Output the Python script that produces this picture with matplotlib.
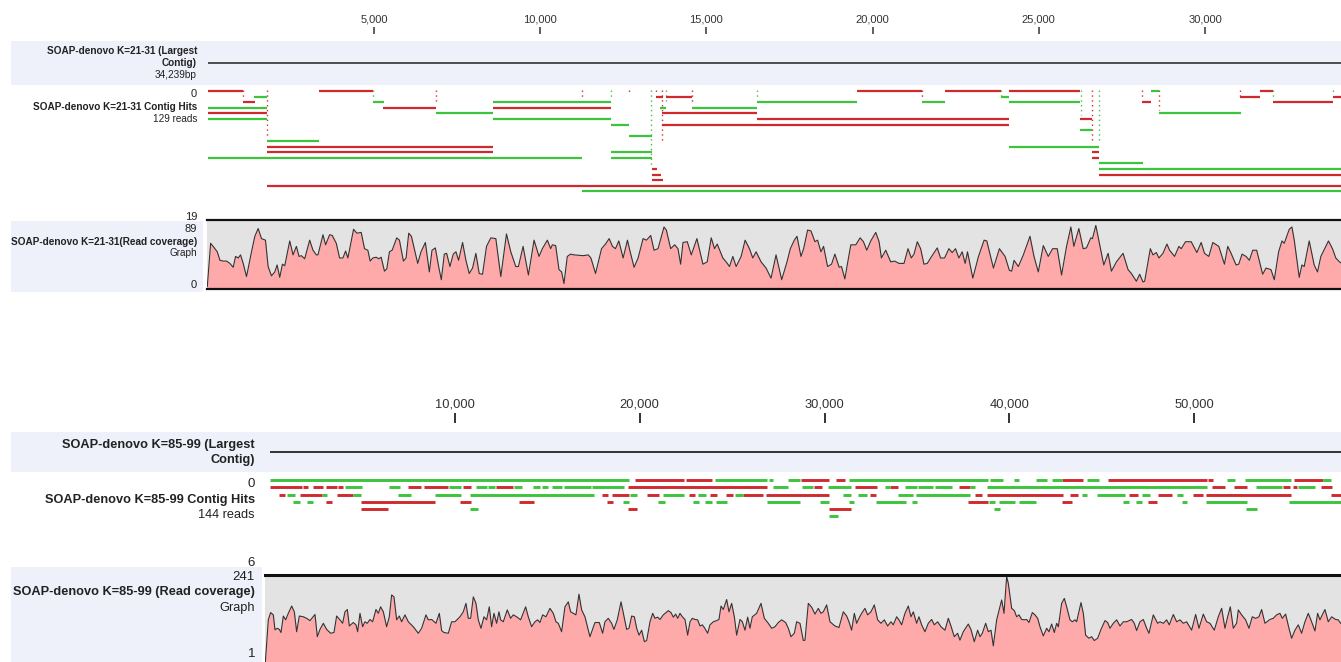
import matplotlib
matplotlib.use("Agg")
import matplotlib.pyplot as plt
from matplotlib.patches import Rectangle
import numpy as np

plt.rcParams['font.family'] = ['Liberation Sans', 'DejaVu Sans']

# ---------------- data ----------------
TOP_LEN = 34239
TOP_TICKS = [5000, 10000, 15000, 20000, 25000, 30000]
BOT_LEN = 58240
BOT_TICKS = [10000, 20000, 30000, 40000, 50000]

# contig hits: (row, start, end)
TOP_REV = [(0, 0, 1059), (0, 3347, 4969), (0, 19528, 21483), (0, 22175, 23859), (0, 24100, 26240),
           (0, 31650, 32041), (1, 13482, 13693), (1, 13783, 14565), (1, 31048, 31650), (1, 33846, 34239),
           (2, 1059, 1420), (2, 28101, 28372), (2, 32041, 33846), (3, 5270, 6864), (3, 8579, 12128),
           (4, 0, 1781), (4, 13663, 16520), (5, 16520, 24100), (5, 26236, 26597), (6, 13663, 24100),
           (10, 1781, 8579), (11, 1781, 8579), (11, 26597, 26808), (12, 26597, 26808),
           (14, 13362, 13512), (15, 13362, 13632), (15, 26808, 34239), (16, 13362, 13693),
           (17, 1781, 34239)]
TOP_FWD = [(0, 28372, 28612), (1, 1390, 1781), (1, 23859, 24100), (2, 4969, 5300), (2, 8579, 12128),
           (2, 16520, 19528), (2, 21483, 22175), (2, 24100, 26240), (3, 0, 1781), (3, 13602, 13783),
           (3, 14565, 16520), (4, 6864, 8579), (4, 28612, 31078), (5, 0, 1781), (5, 8579, 12128),
           (6, 12128, 12670), (7, 26236, 26597), (8, 12670, 13362), (9, 1781, 3347),
           (10, 24100, 26808), (11, 12128, 13362), (12, 0, 11247), (12, 12128, 13362),
           (13, 26808, 28131), (14, 26808, 34239), (18, 11247, 34239)]
# connector markers: (position, last row, strand)
TOP_LINKS = [(1781, 8, 'r'), (1059, 1, 'r'), (4969, 1, 'g'), (6864, 2, 'r'), (11247, 1, 'r'),
             (12128, 1, 'g'), (12670, 0, 'r'), (13332, 13, 'g'), (13482, 0, 'r'), (13663, 9, 'r'),
             (13783, 2, 'g'), (14565, 2, 'r'), (16520, 1, 'g'), (21483, 1, 'r'), (23859, 1, 'g'),
             (26266, 4, 'g'), (26597, 9, 'r'), (26808, 9, 'g'), (28101, 1, 'r'), (28612, 3, 'r'),
             (31048, 1, 'r'), (32041, 1, 'g'), (33846, 0, 'g')]

BOT_REV = [(0, 19743, 22395), (0, 22503, 23911), (0, 28718, 30234), (0, 30613, 31100), (0, 42847, 43983),
           (0, 45336, 50695), (0, 50750, 51020), (0, 55413, 56983),
           (1, 0, 1719), (1, 1773, 2043), (1, 2314, 2855), (1, 3018, 3613), (1, 3667, 3938), (1, 7456, 8160),
           (1, 8322, 9622), (1, 10433, 10866), (1, 12220, 13140), (1, 19364, 26888), (1, 29422, 29855),
           (1, 31642, 32833), (1, 33537, 33970), (1, 37272, 37868), (1, 50966, 51669), (1, 52157, 52860),
           (1, 54818, 55197), (1, 55359, 55575), (1, 56875, 57470),
           (2, 474, 798), (2, 1610, 2801), (2, 3613, 4479), (2, 17957, 18282), (2, 18498, 19418),
           (2, 20392, 21042), (2, 22666, 22990), (2, 23803, 24182), (2, 24669, 25048), (2, 25589, 26672),
           (2, 26834, 30234), (2, 32454, 32779), (2, 38138, 38517), (2, 38788, 42901), (2, 43280, 43713),
           (2, 46473, 46960), (2, 48043, 48800), (2, 49937, 50478), (2, 50641, 55251), (2, 57416, 58500),
           (3, 3018, 3342), (3, 4912, 8917), (3, 10271, 10866), (3, 13465, 14277), (3, 18228, 18552),
           (3, 37760, 38842), (3, 42847, 43388), (3, 47501, 47988),
           (4, 4912, 6373), (4, 19364, 19851), (4, 30234, 31425)]
BOT_FWD = [(0, 0, 19418), (0, 24073, 26888), (0, 26996, 27213), (0, 28025, 28664), (0, 31317, 38842),
           (0, 38950, 39653), (0, 40249, 40519), (0, 41439, 42035), (0, 42305, 42847), (0, 44200, 44849),
           (0, 51778, 52211), (0, 52752, 55251), (0, 56983, 57416),
           (1, 4046, 4966), (1, 6427, 7023), (1, 9676, 10325), (1, 11137, 11733), (1, 11787, 12166),
           (1, 13194, 13627), (1, 14222, 14601), (1, 14710, 15050), (1, 15251, 15792), (1, 15900, 17362),
           (1, 17416, 19148), (1, 27213, 28025), (1, 28772, 29368), (1, 30180, 31425), (1, 33266, 33537),
           (1, 34349, 34999), (1, 35053, 35865), (1, 35973, 36893), (1, 37868, 38138), (1, 38788, 50695),
           (1, 53357, 54764), (1, 55630, 56550),
           (2, 906, 1340), (2, 2801, 3072), (2, 4479, 4912), (2, 6915, 7618), (2, 8917, 10325),
           (2, 10812, 17524), (2, 19472, 19851), (2, 21258, 22395), (2, 23153, 23586), (2, 25156, 25589),
           (2, 30992, 31425), (2, 31804, 32291), (2, 33970, 34782), (2, 34945, 37868), (2, 43929, 44200),
           (2, 44741, 46257), (2, 47177, 47610), (2, 49071, 49396),
           (3, 1231, 1610), (3, 1989, 2314), (3, 19094, 19418), (3, 20988, 21367), (3, 22882, 23207),
           (3, 23532, 23911), (3, 24127, 24723), (3, 26888, 28664), (3, 29747, 30234), (3, 31317, 31588),
           (3, 32779, 34403), (3, 34728, 34999), (3, 38896, 39220), (3, 39437, 40303), (3, 40519, 41439),
           (3, 46148, 46473), (3, 46852, 47177), (3, 49342, 49612), (3, 50641, 52860), (3, 55143, 58500),
           (4, 10812, 11246), (4, 39166, 39491), (4, 52806, 53411),
           (5, 30234, 30721)]

# read coverage: (position, depth)
TOP_COV = [(0, 3), (100, 59), (230, 52), (300, 48), (380, 37), (480, 36), (580, 36), (680, 33), (780, 28),
           (850, 42), (930, 40), (1000, 44), (1080, 33), (1180, 16), (1330, 48), (1430, 68), (1530, 78),
           (1630, 65), (1750, 63), (1830, 29), (1930, 17), (2030, 22), (2100, 31), (2180, 15), (2260, 32),
           (2330, 30), (2480, 62), (2580, 44), (2680, 55), (2760, 42), (2830, 43), (2930, 39), (3080, 63),
           (3180, 50), (3280, 44), (3330, 44), (3480, 70), (3560, 57), (3680, 70), (3760, 69), (3880, 59),
           (3980, 40), (4080, 40), (4160, 49), (4230, 40), (4400, 77), (4500, 72), (4630, 73), (4730, 52),
           (4830, 50), (4900, 36), (4980, 40), (5080, 41), (5160, 39), (5230, 41), (5330, 23), (5400, 26),
           (5480, 48), (5560, 50), (5700, 66), (5780, 63), (5900, 36), (5980, 40), (6060, 72), (6140, 68),
           (6330, 33), (6430, 48), (6560, 60), (6680, 22), (6760, 50), (6860, 53), (6960, 29), (7040, 12),
           (7130, 45), (7200, 46), (7300, 29), (7400, 45), (7480, 48), (7560, 37), (7680, 60), (7780, 37),
           (7880, 20), (7980, 27), (8080, 46), (8180, 20), (8280, 19), (8400, 55), (8530, 66), (8680, 65),
           (8830, 16), (9000, 71), (9130, 48), (9280, 29), (9360, 29), (9500, 55), (9660, 18), (9830, 63),
           (9980, 42), (10080, 52), (10230, 63), (10330, 52), (10380, 57), (10480, 56), (10580, 25),
           (10660, 22), (10730, 7), (10830, 42), (10930, 45), (11030, 44),
           (11310, 43), (11460, 44), (11540, 40), (11680, 20), (11860, 52), (11980, 58), (12090, 65),
           (12190, 55), (12280, 52), (12380, 62), (12510, 40), (12640, 63), (12710, 50), (12840, 28),
           (12960, 40), (13110, 65), (13210, 63), (13340, 69), (13440, 50), (13560, 52), (13740, 80),
           (13810, 76), (13940, 52), (14060, 57), (14160, 52), (14240, 32), (14310, 60), (14440, 61),
           (14560, 44), (14730, 65), (14910, 32), (15040, 35), (15160, 66), (15260, 52), (15340, 58),
           (15510, 40), (15610, 35), (15710, 29), (15810, 42), (15910, 29), (16060, 42), (16180, 63),
           (16310, 52), (16410, 40), (16510, 48), (16660, 35), (16810, 27), (16960, 14), (17110, 44),
           (17280, 12), (17440, 35), (17540, 52), (17660, 63), (17740, 68), (17860, 42), (17940, 52),
           (18060, 76), (18160, 75), (18280, 61), (18360, 63), (18460, 48), (18540, 55), (18660, 29),
           (18780, 32), (18880, 45), (19010, 28), (19080, 29), (19180, 13), (19260, 33), (19360, 57),
           (19510, 57), (19640, 66), (19740, 61), (19840, 50), (19960, 62), (20110, 73), (20210, 61),
           (20280, 40), (20410, 50), (20560, 35), (20680, 36), (20810, 33), (20960, 33), (21080, 52),
           (21180, 40), (21260, 45), (21360, 61), (21460, 52), (21560, 32), (21660, 33), (21760, 40),
           (21960, 53), (22060, 40), (22180, 40), (22310, 52), (22410, 47), (22510, 52), (22610, 40),
           (22710, 48),
           (22800, 33), (22870, 48), (23030, 14), (23200, 42), (23370, 63), (23450, 62), (23650, 27),
           (23830, 52), (24000, 42), (24130, 24), (24200, 23), (24270, 37), (24400, 29), (24550, 44),
           (24750, 68), (24870, 42), (25000, 22), (25150, 56), (25300, 42), (25430, 52), (25570, 52),
           (25700, 18), (25850, 55), (25980, 80), (26070, 55), (26220, 78), (26350, 52), (26450, 53),
           (26580, 66), (26630, 65), (26730, 82), (26830, 61), (26970, 31), (27100, 46), (27200, 23),
           (27350, 35), (27550, 46), (27700, 25), (27800, 20), (27950, 10), (28050, 19), (28150, 9),
           (28200, 10), (28370, 52), (28450, 44), (28550, 47), (28630, 40), (28750, 46), (28870, 58),
           (28950, 50), (29100, 42), (29230, 55), (29300, 52), (29430, 61), (29600, 61), (29770, 47),
           (29900, 60), (30000, 46), (30130, 42), (30250, 60), (30430, 55), (30600, 32), (30700, 55),
           (30800, 46), (30950, 31), (31030, 32), (31130, 45), (31250, 42), (31350, 37), (31450, 50),
           (31570, 50), (31750, 19), (31850, 27), (32000, 25), (32100, 12), (32230, 48), (32330, 62),
           (32400, 59), (32550, 77), (32630, 80), (32700, 63), (32850, 15), (32930, 31), (33000, 29),
           (33150, 62), (33300, 31), (33400, 22), (33500, 42), (33730, 62), (33850, 52), (33950, 40),
           (34060, 35), (34239, 30)]

BOT_COV = [(0, 1), (180, 124), (306, 143), (450, 137), (541, 98), (667, 102), (775, 99), (866, 91),
           (992, 134), (1118, 124), (1262, 141), (1443, 160), (1587, 145), (1713, 93), (1858, 134),
           (2074, 132), (2255, 128), (2435, 122), (2706, 138), (2832, 80), (2976, 99), (3157, 115),
           (3337, 99), (3553, 89), (3734, 91), (3878, 134), (4059, 124), (4203, 115), (4329, 145),
           (4456, 151), (4564, 108), (4780, 117), (4925, 111), (5015, 93), (5141, 141), (5285, 106),
           (5411, 119), (5538, 115), (5682, 125), (5826, 119), (6007, 151), (6133, 141), (6259, 158),
           (6404, 145), (6584, 106), (6728, 132), (6855, 189), (6981, 184), (7125, 124), (7270, 134),
           (7396, 119), (7576, 137), (7757, 119), (8027, 106), (8298, 89), (8478, 102), (8713, 137),
           (8839, 124), (9020, 125), (9254, 115), (9435, 141), (9561, 96), (9687, 91), (9922, 89),
           (10102, 119), (10283, 119), (10553, 132), (10734, 145), (10878, 167), (11004, 128),
           (11131, 128), (11275, 184), (11419, 167), (11545, 124), (11690, 102), (11852, 132),
           (11996, 124), (12140, 158), (12267, 106), (12393, 141), (12537, 115), (12663, 145),
           (12754, 124), (12898, 119), (13114, 150), (13295, 128), (13439, 137), (13620, 132),
           (13836, 124), (14107, 158), (14251, 132), (14432, 106), (14612, 119), (14756, 124),
           (14883, 117), (15027, 137), (15208, 132), (15424, 154), (15604, 141), (15749, 119),
           (15875, 115), (16055, 93), (16236, 158), (16416, 171), (16543, 145), (16831, 137),
           (16994, 191), (17138, 150), (17318, 132), (17589, 80), (17860, 117), (18094, 117),
           (18275, 89), (18401, 119), (18581, 128), (18762, 115), (18888, 99), (19068, 124),
           (19270, 171), (19396, 141), (19576, 99), (19703, 102), (19847, 134), (19991, 132),
           (20118, 102), (20244, 84), (20388, 97), (20533, 67), (20659, 70), (20839, 119), (20984, 141),
           (21110, 128), (21254, 131), (21380, 125), (21561, 137), (21705, 143), (21831, 148),
           (21975, 143), (22102, 131), (22228, 139), (22337, 128), (22463, 141), (22589, 132),
           (22733, 125), (22878, 84), (23004, 119), (23130, 128), (23275, 125), (23419, 124),
           (23545, 108), (23672, 111), (23780, 104), (23960, 89), (24086, 111), (24267, 119),
           (24447, 122), (24573, 125), (24682, 160), (24808, 151), (24988, 177), (25115, 145),
           (25259, 167), (25403, 132), (25530, 84), (25710, 125), (25836, 119), (25981, 97),
           (26125, 131), (26251, 102), (26377, 132), (26612, 141), (26847, 167), (27027, 128),
           (27243, 115), (27424, 102), (27604, 106), (27785, 117), (27965, 124), (28181, 117),
           (28326, 102), (28470, 80), (28651, 89), (28777, 119), (28957, 115), (29138, 70), (29228, 71),
           (29408, 167), (29589, 157), (29769, 139), (29949, 154), (30094, 141), (30220, 145),
           (30400, 163), (30581, 119), (30851, 108), (31068, 104), (31302, 145), (31483, 134),
           (31609, 119), (31753, 97), (31898, 141), (32024, 115), (32150, 128), (32295, 141),
           (32475, 154), (32619, 137), (32800, 145), (32980, 163), (33161, 124), (33341, 115),
           (33521, 124), (33702, 108), (33882, 119), (34008, 111), (34189, 132), (34315, 124),
           (34459, 111), (34640, 141), (34820, 160), (34965, 132), (35091, 145), (35271, 115),
           (35397, 132), (35542, 111), (35722, 93), (35903, 115), (36083, 125), (36227, 111),
           (36408, 119), (36588, 106), (36805, 97), (36985, 128), (37129, 108), (37310, 80),
           (37490, 89), (37616, 71), (37796, 93), (38067, 113), (38211, 99), (38392, 67), (38573, 97),
           (38701, 80), (38827, 89), (39007, 115), (39152, 93), (39296, 97), (39422, 56), (39603, 124),
           (39873, 176), (40000, 141), (40144, 237), (40234, 219), (40414, 154), (40559, 148),
           (40685, 132), (40811, 137), (40956, 125), (41100, 124), (41226, 125), (41352, 117),
           (41533, 143), (41677, 137), (41822, 128), (41948, 106), (42128, 82), (42309, 102),
           (42435, 93), (42579, 113), (42724, 91), (42850, 115), (42940, 106), (43120, 167),
           (43265, 180), (43391, 158), (43571, 124), (43698, 119), (43842, 124), (43932, 119),
           (44167, 169), (44293, 141), (44419, 84), (44600, 76), (44744, 80), (44888, 70), (45069, 76),
           (45249, 99), (45466, 122), (45610, 117), (45736, 102), (45917, 115), (46097, 124),
           (46277, 108), (46458, 119), (46638, 119), (46909, 125), (47053, 115), (47179, 96),
           (47360, 119), (47540, 125), (47721, 102), (47847, 89), (48081, 137), (48316, 115),
           (48442, 119), (48623, 115), (48803, 124), (48947, 111), (49164, 138), (49344, 119),
           (49525, 124), (49705, 115), (49885, 119), (50156, 97), (50372, 138), (50553, 102),
           (50787, 139), (50968, 119), (51148, 115), (51383, 97), (51599, 132), (51780, 154),
           (51960, 102), (52105, 132), (52249, 158), (52411, 102), (52591, 115), (52682, 150),
           (52862, 137), (53078, 124), (53259, 102), (53439, 132), (53620, 128), (53800, 132),
           (53944, 151), (54125, 115), (54395, 125), (54576, 128), (54756, 137), (54937, 141),
           (55063, 128), (55243, 139), (55424, 102), (55568, 76), (55748, 97), (55929, 111),
           (56109, 89), (56290, 119), (56470, 141), (56650, 119), (56831, 95), (56975, 141),
           (57101, 124), (57227, 137), (57372, 151), (57552, 119), (57733, 132), (57949, 125),
           (58093, 124), (58219, 115)]

# ---------------- styles ----------------
W, H = 1341, 662
RED = '#cf2a2e'
GREEN = '#3dc43d'
BAND = '#eef0fa'
GRAY = '#e3e3e3'
PINK = '#ffaaaa'
TXT = '#222222'
STRAND = {'r': RED, 'g': GREEN}

fig = plt.figure(figsize=(W / 100, H / 100), dpi=100)


def px_axes(x0, y0, x1, y1):
    a = fig.add_axes([x0 / W, 1 - y1 / H, (x1 - x0) / W, (y1 - y0) / H])
    a.patch.set_alpha(0)
    return a


bg = px_axes(0, 0, W, H)
bg.set_xlim(0, W)
bg.set_ylim(H, 0)
bg.axis('off')

for (x, y, w, h) in [(11, 41, 1330, 44), (11, 221, 192, 71), (11, 432, 1330, 40), (11, 567, 251, 100)]:
    bg.add_patch(Rectangle((x, y), w, h, facecolor=BAND, edgecolor='none', zorder=0))


def lab(x, y, s, size, bold=False):
    bg.text(x, y, s, ha='right', va='center', fontsize=size, color=TXT,
            fontweight='bold' if bold else 'normal')


# top labels
lab(197, 51.5, 'SOAP-denovo K=21-31 (Largest', 7.2, True)
lab(197, 63, 'Contig)', 7.2, True)
lab(197, 74.5, '34,239bp', 7.2)
lab(197, 94, '0', 8)
lab(197, 107.5, 'SOAP-denovo K=21-31 Contig Hits', 7.2, True)
lab(197, 119, '129 reads', 7.2)
lab(197, 217, '19', 8)
lab(197, 229, '89', 8)
lab(197, 242, 'SOAP-denovo K=21-31(Read coverage)', 7.2, True)
lab(197, 253.5, 'Graph', 7.2)
lab(197, 285, '0', 8)
# bottom labels
lab(255, 445, 'SOAP-denovo K=85-99 (Largest', 9.2, True)
lab(255, 460.5, 'Contig)', 9.2, True)
lab(255, 484, '0', 9.5)
lab(255, 500, 'SOAP-denovo K=85-99 Contig Hits', 9.2, True)
lab(255, 515, '144 reads', 9.2)
lab(255, 563, '6', 9.5)
lab(255, 577.5, '241', 9.5)
lab(255, 592.5, 'SOAP-denovo K=85-99 (Read coverage)', 9.2, True)
lab(255, 608, 'Graph', 9.2)
lab(255, 654, '1', 9.5)

# ---------------- top panel ----------------
T_X0 = 207.8
T_X1 = T_X0 + TOP_LEN * 0.03324

ruler = px_axes(T_X0, 34, T_X1, 35)
ruler.set_xlim(0, TOP_LEN)
ruler.set_yticks([])
for s in ruler.spines.values():
    s.set_visible(False)
ruler.xaxis.set_ticks_position('top')
ruler.set_xticks(TOP_TICKS)
ruler.set_xticklabels([f'{t:,}' for t in TOP_TICKS])
ruler.tick_params(axis='x', direction='out', length=5, width=1.1, color='#333333',
                  labelsize=8, labelcolor='#333333', pad=1.5)

contig = px_axes(T_X0, 55, T_X1, 71)
contig.set_xlim(0, TOP_LEN)
contig.set_ylim(-1, 1)
contig.axis('off')
contig.hlines([0], [0], [TOP_LEN], colors='#222222', linewidth=1.1)

hits = px_axes(T_X0, 88.5, T_X1, 88.5 + 19 * 5.55)
hits.set_xlim(0, TOP_LEN)
hits.set_ylim(18.5, -0.5)
hits.axis('off')
for (x, last, st) in TOP_LINKS:
    hits.vlines([x], -0.3, last + 0.3, colors=STRAND[st], linewidth=1, linestyles=(0, (1, 2.5)))
for segs, col in [(TOP_REV, RED), (TOP_FWD, GREEN)]:
    r, s, e = zip(*segs)
    hits.hlines(r, s, e, colors=col, linewidth=1.6, capstyle='butt')

cov = px_axes(207.3, 220, 207.3 + TOP_LEN * 0.03324, 289)
cov.set_xlim(0, TOP_LEN)
cov.set_ylim(0, 89)
cov.set_facecolor(GRAY)
cov.patch.set_alpha(1)
p, v = zip(*TOP_COV)
cov.fill_between(p, v, 0, color=PINK, linewidth=0)
cov.plot(p, v, color='#333333', linewidth=0.8)
cov.set_xticks([])
cov.set_yticks([])
for k in ['left', 'right']:
    cov.spines[k].set_visible(False)
for k in ['top', 'bottom']:
    cov.spines[k].set_linewidth(1.6)
    cov.spines[k].set_color('#111111')

# ---------------- bottom panel ----------------
B_SCALE = 0.018475
B_X0 = 270.25
B_X1 = W
B_XMAX = (B_X1 - B_X0) / B_SCALE

ruler2 = px_axes(B_X0, 423, B_X1, 424)
ruler2.set_xlim(0, B_XMAX)
ruler2.set_yticks([])
for s in ruler2.spines.values():
    s.set_visible(False)
ruler2.xaxis.set_ticks_position('top')
ruler2.set_xticks(BOT_TICKS)
ruler2.set_xticklabels([f'{t:,}' for t in BOT_TICKS])
ruler2.tick_params(axis='x', direction='out', length=7, width=1.4, color='#333333',
                   labelsize=9.3, labelcolor='#333333', pad=2)

contig2 = px_axes(B_X0, 444, B_X1, 460)
contig2.set_xlim(0, B_XMAX)
contig2.set_ylim(-1, 1)
contig2.axis('off')
contig2.hlines([0], [0], [BOT_LEN], colors='#333333', linewidth=1.4)

hits2 = px_axes(B_X0, 476.7, B_X1, 476.7 + 6 * 7.2)
hits2.set_xlim(0, B_XMAX)
hits2.set_ylim(5.5, -0.5)
hits2.axis('off')
for segs, col in [(BOT_REV, RED), (BOT_FWD, GREEN)]:
    r, s, e = zip(*segs)
    hits2.hlines(r, s, e, colors=col, linewidth=2.1, capstyle='butt')

cov2 = px_axes(265, 575, W, 667)
cov2.set_xlim(0, (W - 265) / B_SCALE)
cov2.set_ylim(1, 241)
cov2.set_facecolor(GRAY)
cov2.patch.set_alpha(1)
p, v = zip(*BOT_COV)
cov2.fill_between(p, v, 0, color=PINK, linewidth=0)
cov2.plot(p, v, color='#333333', linewidth=0.8)
cov2.set_xticks([])
cov2.set_yticks([])
for k in ['left', 'right', 'bottom']:
    cov2.spines[k].set_visible(False)
cov2.spines['top'].set_linewidth(2.2)
cov2.spines['top'].set_color('#111111')

fig.savefig('out.png', dpi=100)
